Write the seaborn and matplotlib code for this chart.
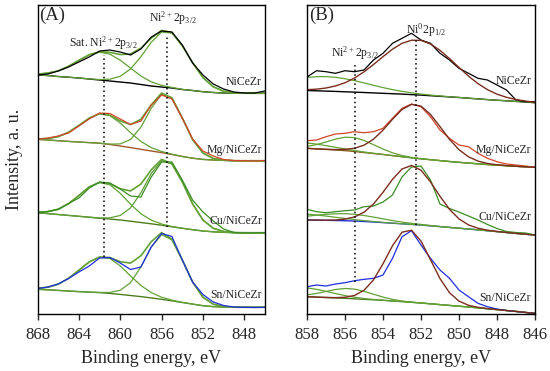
import numpy as np
import seaborn as sns
import matplotlib.pyplot as plt

# binding energy grids (eV)
energy_a = [868, 867, 866, 865, 864, 863, 862, 861, 860, 859, 858, 857,
            856, 855, 854, 853, 852, 851, 850, 849, 848, 847, 846]
energy_b = [858.0, 857.5, 857.0, 856.5, 856.0, 855.5, 855.0, 854.5, 854.0,
            853.5, 853.0, 852.5, 852.0, 851.5, 851.0, 850.5, 850.0, 849.5,
            849.0, 848.5, 848.0, 847.5, 847.0, 846.5, 846.0]

samples = ["NiCeZr", "Mg/NiCeZr", "Cu/NiCeZr", "Sn/NiCeZr"]

# panel A: measured spectra and backgrounds (stacked, arbitrary units)
a_nicezr = [239, 240, 243, 247, 252, 257, 263, 264, 262, 259, 265, 277, 283, 282, 269, 251, 239, 230, 225, 222, 221, 221, 223]
a_nicezr_bg = [239, 238.5, 237.5, 236.8, 236, 235, 234, 233, 232, 231, 229.5, 228, 227, 226, 224.5, 223.5, 222.3, 221.5, 221, 220.8, 220.7, 220.7, 220.7]
a_mg = [174.7, 176, 178, 181, 188, 195, 201, 200.5, 195, 189.5, 193, 209, 219, 215, 196, 175, 163, 158, 154.5, 153.5, 153.3, 153, 153.5]
a_mg_bg = [174.7, 174, 173.3, 172.6, 172, 171.4, 170.8, 169.5, 168, 166.4, 164.7, 163, 161.4, 159.5, 157.5, 155.8, 154.6, 154, 153.6, 153.3, 153.3, 153.3, 153.3]
a_cu = [101, 102.5, 104.5, 110.5, 116, 126, 132, 131, 125, 118, 117, 137, 152, 152, 134, 114, 102, 93, 85, 81.5, 81, 81, 81.5]
a_cu_bg = [101.3, 100.4, 99.5, 98.6, 97.7, 96.8, 95.8, 95, 94, 92.8, 91.5, 90.2, 88.8, 87.2, 85.7, 84.3, 83, 82.2, 81.7, 81.3, 81.3, 81.3, 81.3]
a_sn = [25.5, 27, 30, 35.5, 42, 48, 56, 56.5, 51, 44.5, 47, 67, 80.5, 77.5, 54, 32, 19.5, 12, 8.5, 7, 6.7, 6.5, 6.7]
a_sn_bg = [24.7, 24.2, 23.6, 23, 22.4, 21.9, 21.4, 20.6, 19.6, 18.5, 17.4, 16.1, 14.7, 13.2, 11.5, 9.9, 8.3, 7.4, 7, 6.7, 6.7, 6.7, 6.7]

# panel A fitted peaks: (centre eV, height, sigma) for satellite and main
a_sat_peaks = [(861.7, 28, 2.4), (861.6, 30, 2.2), (861.7, 36, 2.2), (861.6, 36, 2.35)]
a_main_peaks = [(855.5, 56.5, 2.1), (855.6, 60, 1.7), (855.6, 66, 1.9), (855.7, 65.5, 1.83)]

# panel B: measured spectra and backgrounds
b_nicezr = [237, 243.3, 242.3, 240.7, 243.3, 242.3, 244, 254, 260.7, 270.7, 275.7, 280.7, 274, 270.7, 260.7, 254, 245.7, 240.7, 235.7, 234, 229, 224, 214, 212.3, 212.3]
b_nicezr_bg = [223.5, 223.2, 222.9, 222.6, 222.2, 221.9, 221.5, 221.1, 220.7, 220.3, 219.9, 219.4, 218.9, 218.3, 217.7, 217.1, 216.5, 215.8, 215.1, 214.4, 213.8, 213.2, 212.6, 212, 211.3]
b_mg = [173.3, 174, 177.3, 180, 180.7, 182.3, 181.3, 182.3, 185.7, 195.7, 205.7, 210, 207.3, 197.3, 184, 175.7, 169, 167.3, 160.7, 155.7, 152.3, 150, 149, 148, 146.7]
b_mg_bg = [165.7, 165.1, 164.6, 164, 163.4, 162.5, 161.5, 160.5, 159.5, 158.4, 157.3, 156.2, 155.2, 154.3, 153.4, 152.5, 151.7, 150.9, 150.2, 149.5, 148.9, 148.3, 147.7, 147.2, 146.7]
b_cu = [104.7, 102.3, 101.3, 102.3, 103.3, 104, 107.3, 108, 112, 119, 137, 147, 148, 134, 110, 105.5, 102, 98, 94, 89.5, 85.5, 82.5, 81.5, 81, 79]
b_cu_bg = [94, 93.9, 93.7, 93.5, 93.3, 93, 92.5, 92, 91.4, 90.8, 90.2, 89.6, 89, 88.2, 87.4, 86.6, 85.8, 85, 84.2, 83.3, 82.4, 81.5, 80.6, 79.8, 79]
b_sn = [27.3, 29, 28, 30, 31.3, 33.3, 34.7, 35.7, 39, 55.7, 77.3, 83.3, 69, 55.7, 44, 35.7, 24, 17.3, 10.7, 7.3, 5, 3.5, 2.5, 1.5, 0.7]
b_sn_bg = [17.3, 16.9, 16.5, 16.1, 15.7, 15.2, 14.7, 14.2, 13.7, 13, 12.4, 11.7, 11, 10.2, 9.4, 8.6, 7.8, 7, 6.2, 5.3, 4.4, 3.5, 2.6, 1.6, 0.6]

# panel B fitted peaks: tail (high BE), Ni2+ and Ni0 components
b_tail_peaks = [None, (858.3, 5.5, 1.5), (858.5, 6, 1.8), (858.3, 9, 1.5)]
b_ni2_peaks = [(857.0, 14.5, 2.2), (855.65, 14, 1.2), (856.0, 7, 1.8), (855.8, 10, 1.2)]
b_ni0_peaks = [(852.2, 55, 2.0), (852.3, 54, 1.35), (852.5, 59, 1.3), (852.65, 72.7, 1.15)]

# dotted reference lines: (energy, y from, y to)
a_ref_lines = [(861.6, 259, 57), (855.5, 279, 87)]
b_ref_lines = [(855.5, 249, 32), (852.25, 274, 89)]

data_colors = ["black", "#d2452a", "#3b8c24", "#1e2ee0"]
a_bg_colors = ["black", "#a0582c", "#4b7d1e", "#4b7d1e"]
b_bg_colors = ["black", "#8a5a1a", "#1f2fd6", "#4b7d1e"]
green = "#62a135"
brown = "#7b2d1e"

sns.set_style("ticks")
plt.rcParams["font.family"] = ["Liberation Serif", "DejaVu Serif"]
plt.rcParams["mathtext.default"] = "regular"


def peak(x, p):
    c, h, s = p
    return h * np.exp(-(np.asarray(x) - c) ** 2 / (2 * s ** 2))


def line(ax, x, y, color, lw=0.9):
    sns.lineplot(x=x, y=y, ax=ax, color=color, lw=lw, estimator=None, sort=False)


fig = plt.figure(figsize=(5.5, 3.71), dpi=100)
ax_a = fig.add_axes([0.0682, 0.1536, 0.4136, 0.8329])
ax_b = fig.add_axes([0.5582, 0.1536, 0.4145, 0.8329])

# panel A
spec_a = [a_nicezr, a_mg, a_cu, a_sn]
bg_a = [a_nicezr_bg, a_mg_bg, a_cu_bg, a_sn_bg]
for i in range(4):
    bg = np.array(bg_a[i])
    sat = bg + peak(energy_a, a_sat_peaks[i])
    main = bg + peak(energy_a, a_main_peaks[i])
    env = sat + main - bg
    line(ax_a, energy_a, bg, a_bg_colors[i], 1.0)
    line(ax_a, energy_a, sat, green)
    line(ax_a, energy_a, main, green)
    line(ax_a, energy_a, env, green, 1.2)
    line(ax_a, energy_a, spec_a[i], data_colors[i])

# panel B
spec_b = [b_nicezr, b_mg, b_cu, b_sn]
bg_b = [b_nicezr_bg, b_mg_bg, b_cu_bg, b_sn_bg]
for i in range(4):
    bg = np.array(bg_b[i])
    line(ax_b, energy_b, bg, b_bg_colors[i], 1.0)
    if b_tail_peaks[i] is not None:
        line(ax_b, energy_b, bg + peak(energy_b, b_tail_peaks[i]), green)
    line(ax_b, energy_b, bg + peak(energy_b, b_ni2_peaks[i]), green)
    line(ax_b, energy_b, spec_b[i], data_colors[i])
    line(ax_b, energy_b, bg + peak(energy_b, b_ni0_peaks[i]), brown, 1.0)

for ax, refs in ((ax_a, a_ref_lines), (ax_b, b_ref_lines)):
    for e, y0, y1 in refs:
        ax.vlines(e, y1, y0, colors="black", linestyles=(0, (1, 2)), lw=1.1)

ax_a.set_xlim(868, 846)
ax_a.set_xticks([868, 864, 860, 856, 852, 848])
ax_b.set_xlim(858, 846)
ax_b.set_xticks([858, 856, 854, 852, 850, 848, 846])

label_y_a = [232, 164, 93, 19]
label_y_b = [233.5, 164, 97, 16]
for i, name in enumerate(samples):
    ax_a.text(846.3, label_y_a[i], name, ha="right", va="center", fontsize=8.5)
    ax_b.text(846.2, label_y_b[i], name, ha="right", va="center", fontsize=8.5)

ax_a.text(854.9, 296, "Ni$^{2+}$2p$_{3/2}$", ha="center", va="center", fontsize=8.5)
ax_a.text(861.6, 271, "Sat. Ni$^{2+}$2p$_{3/2}$", ha="center", va="center", fontsize=8.5)
ax_b.text(851.75, 284, "Ni$^{0}$2p$_{1/2}$", ha="center", va="center", fontsize=8.5)
ax_b.text(855.45, 261, "Ni$^{2+}$2p$_{3/2}$", ha="center", va="center", fontsize=8.5)

for ax, tag in ((ax_a, "(A)"), (ax_b, "(B)")):
    ax.set_ylim(0, 309)
    ax.set_yticks([])
    ax.set_ylabel("")
    ax.set_xlabel("Binding energy, eV", fontsize=13)
    ax.xaxis.set_label_coords(0.5, -0.118)
    ax.tick_params(axis="x", direction="out", length=4, width=1, labelsize=12, pad=5)
    for sp in ax.spines.values():
        sp.set_linewidth(1.0)
        sp.set_color("black")
    ax.text(0.008, 0.995, tag, transform=ax.transAxes, ha="left", va="top", fontsize=13.5)

ax_a.set_ylabel("Intensity, a. u.", fontsize=13)
ax_a.yaxis.set_label_coords(-0.062, 0.5)

fig.savefig("out.png", dpi=100)
